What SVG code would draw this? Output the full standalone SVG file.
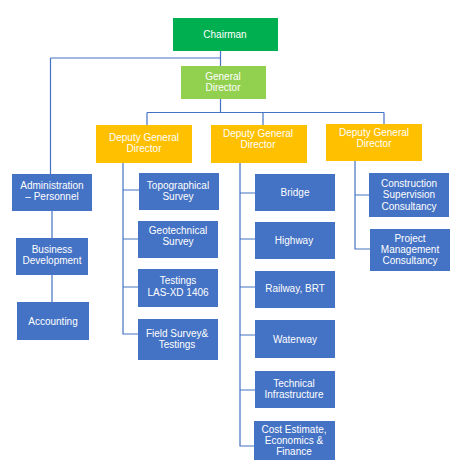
<svg xmlns="http://www.w3.org/2000/svg" width="458" height="468" viewBox="0 0 458 468">
<style>
.c{fill:none;stroke:#4472C4;stroke-width:1.2}
.b{fill:#4472C4}
.t{font-family:"Liberation Sans",Arial,sans-serif;font-size:10px;fill:#fff;text-anchor:middle}
</style>
<rect width="458" height="468" fill="#fff"/>
<g id="connectors">
<path class="c" d="M220.5 51V66M50.5 58H220.5M50.5 58V174"/>
<path class="c" d="M220.5 99V112.5M147 112.5H384M147 112.5V125M263 112.5V125M384 112.5V124"/>
<path class="c" d="M52 211V238M52 275V302"/>
<path class="c" d="M123 163V334H138M123 190H139M123 239H138M123 287H138"/>
<path class="c" d="M240 163V446H254M240 193H255M240 239H255M240 287H255M240 335H255M240 390H255"/>
<path class="c" d="M355 161V249H370M355 195H369"/>
</g>
<g id="chairman"><rect x="173" y="18" width="105" height="33" fill="#00B050"/><text class="t" x="225" y="37.5">Chairman</text></g>
<g id="general-director"><rect x="181" y="66" width="85" height="33" fill="#92D050"/><text class="t" x="223" y="79.5">General</text><text class="t" x="223" y="91">Director</text></g>
<g id="deputy1"><rect x="96" y="125" width="96" height="38" fill="#FFC000"/><text class="t" x="144" y="140.5">Deputy General</text><text class="t" x="144" y="152">Director</text></g>
<g id="deputy2"><rect x="211" y="125" width="96" height="38" fill="#FFC000"/><text class="t" x="258" y="137">Deputy General</text><text class="t" x="258" y="148">Director</text></g>
<g id="deputy3"><rect x="326" y="124" width="96" height="37" fill="#FFC000"/><text class="t" x="374" y="136">Deputy General</text><text class="t" x="374" y="147">Director</text></g>
<g id="admin"><rect class="b" x="12" y="174" width="80" height="37"/><text class="t" x="52" y="188.5">Administration</text><text class="t" x="52" y="200">– Personnel</text></g>
<g id="business"><rect class="b" x="16" y="238" width="72" height="37"/><text class="t" x="52" y="252.5">Business</text><text class="t" x="52" y="264">Development</text></g>
<g id="accounting"><rect class="b" x="17" y="302" width="72" height="38"/><text class="t" x="53" y="324.5">Accounting</text></g>
<g id="topo"><rect class="b" x="139" y="173" width="80" height="37"/><text class="t" x="178" y="188.5">Topographical</text><text class="t" x="178" y="200">Survey</text></g>
<g id="geo"><rect class="b" x="138" y="221" width="80" height="37"/><text class="t" x="178" y="233.5">Geotechnical</text><text class="t" x="178" y="244.5">Survey</text></g>
<g id="testings"><rect class="b" x="138" y="269" width="80" height="38"/><text class="t" x="178" y="284">Testings</text><text class="t" x="178" y="295.5">LAS-XD 1406</text></g>
<g id="field"><rect class="b" x="138" y="319" width="80" height="41"/><text class="t" x="177" y="336.5">Field Survey&amp;</text><text class="t" x="177" y="348">Testings</text></g>
<g id="bridge"><rect class="b" x="255" y="174" width="80" height="37"/><text class="t" x="295" y="195.5">Bridge</text></g>
<g id="highway"><rect class="b" x="255" y="222" width="80" height="37"/><text class="t" x="294" y="243.5">Highway</text></g>
<g id="railway"><rect class="b" x="255" y="271" width="80" height="37"/><text class="t" x="295" y="291.5">Railway, BRT</text></g>
<g id="waterway"><rect class="b" x="255" y="320" width="80" height="38"/><text class="t" x="295" y="342.5">Waterway</text></g>
<g id="technical"><rect class="b" x="255" y="371" width="80" height="37"/><text class="t" x="294" y="386.5">Technical</text><text class="t" x="294" y="398">Infrastructure</text></g>
<g id="cost"><rect class="b" x="254" y="421" width="81" height="39"/><text class="t" x="294" y="432.5">Cost Estimate,</text><text class="t" x="294" y="443.5">Economics &amp;</text><text class="t" x="294" y="455">Finance</text></g>
<g id="construction"><rect class="b" x="369" y="173" width="80" height="44"/><text class="t" x="409" y="186.5">Construction</text><text class="t" x="409" y="198">Supervision</text><text class="t" x="409" y="209.5">Consultancy</text></g>
<g id="project"><rect class="b" x="370" y="229" width="80" height="42"/><text class="t" x="410" y="241.5">Project</text><text class="t" x="410" y="252.5">Management</text><text class="t" x="410" y="263.5">Consultancy</text></g>
</svg>
